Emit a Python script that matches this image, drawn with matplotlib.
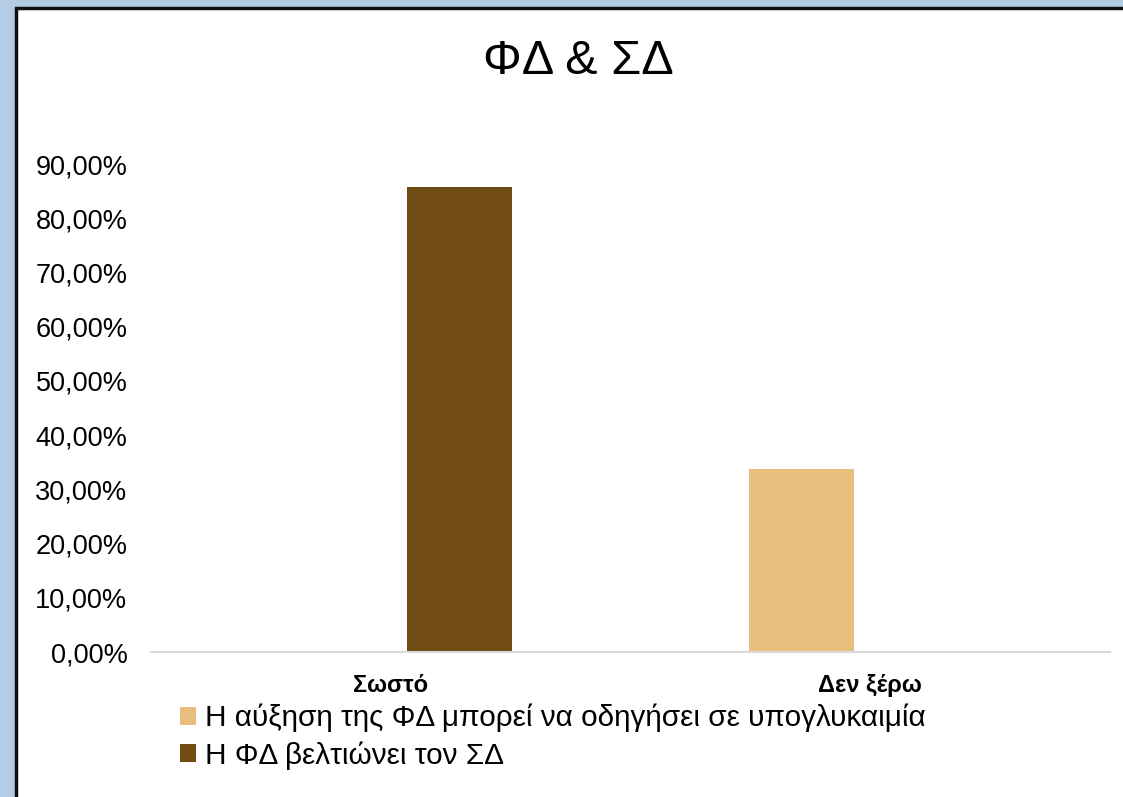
import matplotlib.pyplot as plt
import numpy as np
from matplotlib.patches import Rectangle

# === Data ===
categories = ["Σωστό", "Δεν ξέρω"]
series_names = ["Η αύξηση της ΦΔ μπορεί να οδηγήσει σε υπογλυκαιμία",
                "Η ΦΔ βελτιώνει τον ΣΔ"]
increase_hypo = [0.0, 33.8]     # %
improves_dm = [85.7, 0.0]       # %
y_ticks = np.arange(0, 100, 10)

colors = ["#E9BF7F", "#704B14"]

plt.rcParams['font.family'] = ['Liberation Sans', 'DejaVu Sans']

W, H = 1123, 797
fig = plt.figure(figsize=(W / 100, H / 100), dpi=100)
fig.patch.set_facecolor("#B4CCE4")

# white chart area with dark edge on top/left
fig.patches.append(Rectangle((16 / W, -0.2), 1.2, 1.2 - 8 / H, transform=fig.transFigure,
                             facecolor="white", edgecolor="#111111", linewidth=2.5,
                             zorder=-5))

ax = fig.add_axes([151 / W, 1 - 652 / H, (1110 - 151) / W, (652 - 164) / H])
ax.set_facecolor("none")

x = np.arange(len(categories))
width = 0.22
offset = 0.143
ax.bar(x - offset, increase_hypo, width, color=colors[0], label=series_names[0])
ax.bar(x + offset, improves_dm, width, color=colors[1], label=series_names[1])

ax.set_xlim(-0.5, len(categories) - 0.5)
ax.set_ylim(0, 90)
ax.set_yticks(y_ticks)
ax.set_yticklabels([f"{v:.2f}".replace(".", ",") + "%" for v in y_ticks], fontsize=19.5)
ax.set_xticks(x)
ax.set_xticklabels(categories, fontsize=17, fontweight="bold")
ax.tick_params(axis="y", length=0, pad=17)
ax.tick_params(axis="x", length=0, pad=16)

for side in ["top", "right", "left"]:
    ax.spines[side].set_visible(False)
ax.spines["bottom"].set_color("#D9D9D9")
ax.spines["bottom"].set_linewidth(1.5)

fig.text(578 / W, 1 - 62 / H, "ΦΔ & ΣΔ", fontsize=35, ha="center", va="center")

fig.legend(loc="upper left", bbox_to_anchor=(180 / W, 1 - 704 / H), frameon=False,
           fontsize=21.4, handlelength=0.55, handleheight=0.55, handletextpad=0.3,
           labelspacing=0.3, borderpad=0, borderaxespad=0)

fig.savefig("out.png", dpi=100)
